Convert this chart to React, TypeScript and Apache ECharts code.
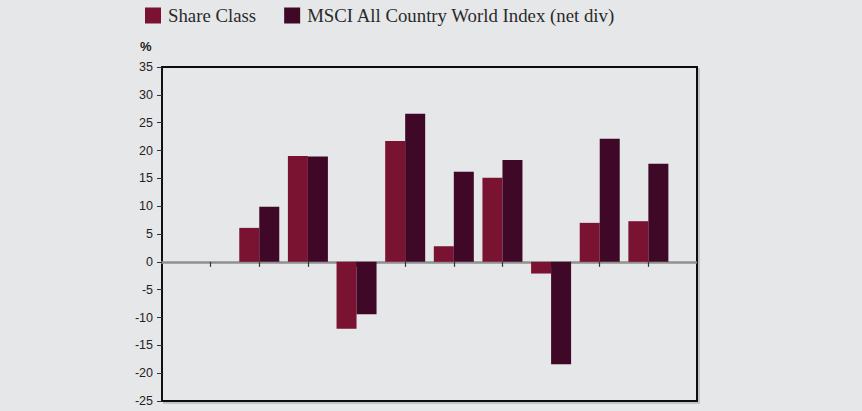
import React, { useEffect, useRef } from "react";
import * as echarts from "echarts";

const years = ["2015", "2016", "2017", "2018", "2019", "2020", "2021", "2022", "2023", "2024"];
const shareClass = [null, 6.1, 19.0, -12.0, 21.7, 2.8, 15.1, -2.1, 7.0, 7.3];
const msciAcwi = [null, 9.9, 18.9, -9.4, 26.6, 16.2, 18.3, -18.4, 22.1, 17.6];
const seriesNames = ["Share Class", "MSCI All Country World Index (net div)"];
const yTicks = { min: -25, max: 35, interval: 5 };

const BG = "#e6e7e9";

export default function App() {
  const ref = useRef<HTMLDivElement>(null);
  useEffect(() => {
    document.body.style.margin = "0";
    const chart = echarts.init(ref.current!, null, { renderer: "svg" });
    const axisData = [" ", ...years, "  "];
    const pad = (arr: (number | null)[]) => [null, ...arr, null];
    chart.setOption({
      animation: false,
      backgroundColor: BG,
      legend: {
        left: 140,
        top: 1,
        itemWidth: 16,
        itemHeight: 16,
        itemGap: 28,
        icon: "rect",
        textStyle: {
          fontFamily: "Liberation Serif",
          fontSize: 18.8,
          color: "#2a2a2a",
          padding: [0, 0, 0, 2],
        },
        data: seriesNames,
      },
      graphic: [
        {
          type: "text",
          left: 140,
          top: 40,
          style: {
            text: "%",
            fontFamily: "Liberation Sans",
            fontWeight: "bold",
            fontSize: 13,
            fill: "#222",
          },
        },
      ],
      grid: {
        left: 162,
        right: 165,
        top: 67,
        bottom: 10,
        show: true,
        backgroundColor: BG,
        borderColor: "#111",
        borderWidth: 2,
        shadowColor: "#c2c3c5",
        shadowOffsetX: 2,
        shadowOffsetY: 2,
        shadowBlur: 0,
      },
      xAxis: {
        type: "category",
        data: axisData,
        boundaryGap: false,
        axisLine: {
          onZero: true,
          lineStyle: { color: "#909090", width: 2.5, type: [1.5, 1] },
        },
        axisTick: {
          show: true,
          length: 5,
          interval: (i: number) => i > 0 && i < axisData.length - 1,
          lineStyle: { color: "#333", width: 1.2 },
        },
        axisLabel: { show: false },
        splitLine: { show: false },
      },
      yAxis: {
        type: "value",
        min: yTicks.min,
        max: yTicks.max,
        interval: yTicks.interval,
        axisLine: { show: true, lineStyle: { color: "#111", width: 2 } },
        axisTick: { show: true, length: 5, lineStyle: { color: "#333", width: 1 } },
        axisLabel: {
          margin: 9,
          fontFamily: "Liberation Sans",
          fontSize: 12.5,
          color: "#222",
        },
        splitLine: { show: false },
      },
      series: [
        {
          name: seriesNames[0],
          type: "bar",
          data: pad(shareClass),
          barWidth: 20,
          barGap: "0%",
          itemStyle: { color: "#7a1232" },
        },
        {
          name: seriesNames[1],
          type: "bar",
          data: pad(msciAcwi),
          barWidth: 20,
          barGap: "0%",
          itemStyle: { color: "#3e0826" },
        },
      ],
    });
    return () => chart.dispose();
  }, []);
  return <div ref={ref} style={{ width: 862, height: 411 }} />;
}
